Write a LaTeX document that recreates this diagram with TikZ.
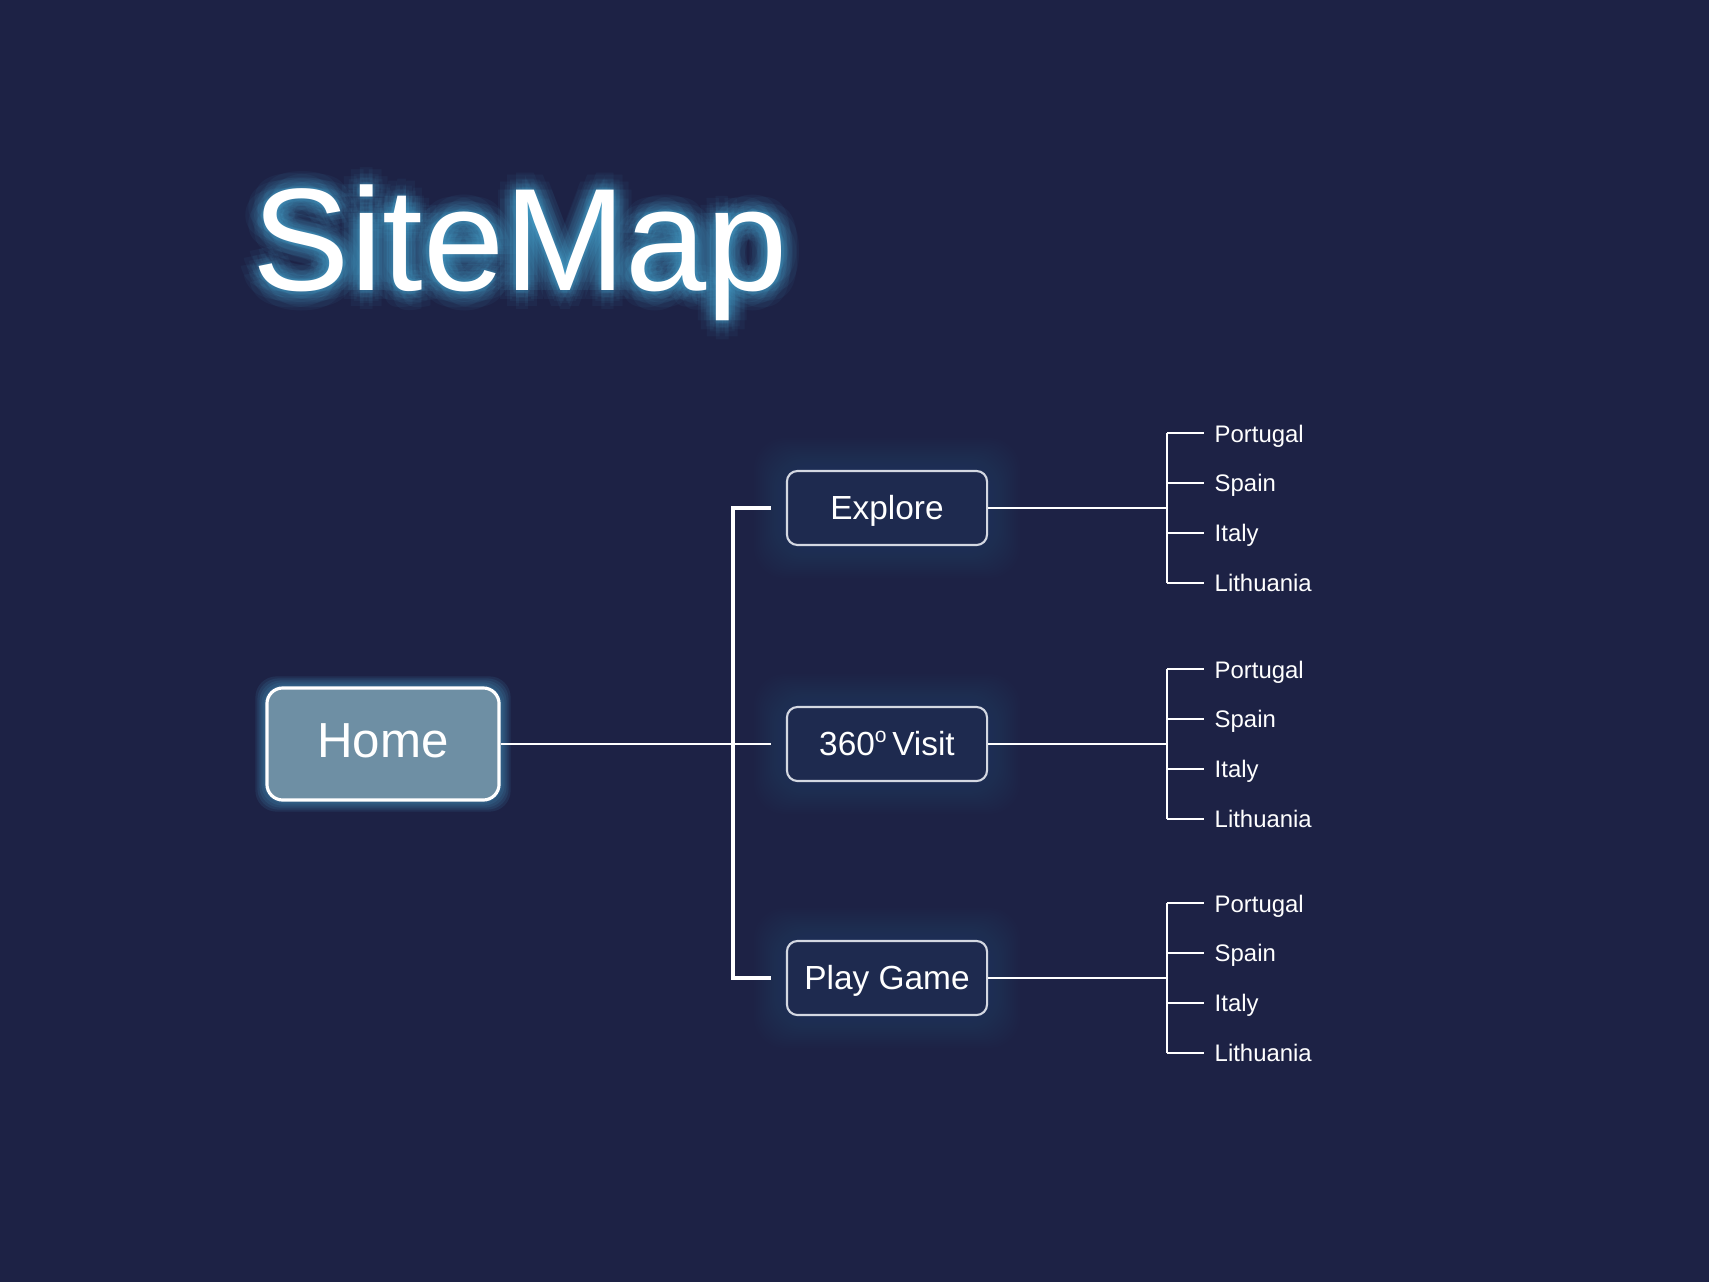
\documentclass[tikz,border=0pt]{standalone}
\usepackage{fontspec}
\setmainfont{Liberation Sans}
\setsansfont{Liberation Sans}
\usetikzlibrary{calc, positioning, backgrounds}

\definecolor{navyBg}{HTML}{1D2245}
\definecolor{boxFill}{HTML}{1E2A4F}
\definecolor{homeFill}{HTML}{6E8FA4}
\definecolor{boxLine}{HTML}{D4D8E2}
\definecolor{glowCyan}{HTML}{4FB3DE}
\definecolor{glowNavy}{HTML}{2C4C84}

\tikzset{
  titletext/.style={anchor=base west, inner sep=0pt, font=\fontsize{41.5}{48}\selectfont},
  pagebox/.style={draw=boxLine, line width=0.6pt, fill=boxFill, rounded corners=3pt,
    minimum width=2cm, minimum height=0.74cm, text=white,
    text height=6.8pt, text depth=0pt, font=\fontsize{9.5}{11}\selectfont},
  homebox/.style={draw=white, line width=0.9pt, fill=homeFill, rounded corners=4.5pt,
    minimum width=2.32cm, minimum height=1.12cm, text=white,
    text height=10pt, text depth=2.6pt, font=\fontsize{14}{16}\selectfont},
  leaf/.style={anchor=west, inner xsep=0.1cm, inner ysep=0pt, text=white,
    text height=4.9pt, text depth=0pt, font=\fontsize{6.8}{8}\selectfont},
  link/.style={draw=white, line width=0.55pt},
  trunk/.style={draw=white, line width=1pt},
}

\begin{document}
\begin{tikzpicture}[x=0.01cm, y=-0.01cm, font=\sffamily]

% --- DEFINITIONS ---
\def\pageX{887}     % centre of the three page boxes
\def\hubX{1167}     % x of the country brackets
\def\leafX{1204}    % end of the country stubs
\def\leafGap{49.7}  % distance between two countries

% --- 0. BACKGROUND ---
\begin{pgfonlayer}{background}
  \fill[navyBg] (0,0) rectangle (1709,1282);
\end{pgfonlayer}
\useasboundingbox (0,0) rectangle (1709,1282);

% --- 1. TITLE (with glow) ---
\coordinate (titlePos) at (252,291);
\foreach \r in {3,7,12,18} {
  \foreach \a in {0,30,...,330} {
    \node[titletext, text=glowCyan, opacity=0.055] at ($(titlePos)+(\a:\r)$) {SiteMap};
  }
}
\node[titletext, text=white] (title) at (titlePos) {SiteMap};

% --- 2. HOME AND PAGES ---
\node[homebox] (home) at (383,744) {Home};
\node[pagebox] (explore) at (\pageX,508) {Explore};
\node[pagebox] (visit) at (\pageX,744)
  {360\raisebox{3.7pt}{\fontsize{6}{7}\selectfont o}\,Visit};
\node[pagebox] (play) at (\pageX,978) {Play Game};

% Glow behind the boxes
\begin{scope}[on background layer]
  \foreach \g in {2,4,...,10}
    \fill[glowCyan, opacity=0.1, rounded corners=6pt]
      ($(home.south west)+(-\g,\g)$) rectangle ($(home.north east)+(\g,-\g)$);
  \foreach \page in {explore, visit, play} {
    \foreach \g in {2,4,...,32}
      \fill[glowNavy, opacity=0.03, rounded corners=9pt]
        ($(\page.south west)+(-\g,\g)$) rectangle ($(\page.north east)+(\g,-\g)$);
  }
\end{scope}

% --- 3. HOME TO PAGES ---
\coordinate (spine) at (733,744);
\coordinate (exploreIn) at ($(explore.west)+(-15,0)$);
\coordinate (visitIn) at ($(visit.west)+(-15,0)$);
\coordinate (playIn) at ($(play.west)+(-15,0)$);
\draw[trunk] (exploreIn) -- (exploreIn -| spine) -- (playIn -| spine) -- (playIn);
\draw[link] (home.east) -- (visitIn);

% --- 4. COUNTRIES ---
\foreach \page/\py in {explore/508, visit/744, play/978} {
  \foreach \c [count=\i] in {Portugal, Spain, Italy, Lithuania} {
    \pgfmathsetmacro{\ly}{\py - 1.5*\leafGap + (\i-1)*\leafGap}
    \node[leaf] (\page-\i) at (\leafX,\ly) {\c};
  }
  \coordinate (\page-hub) at (\hubX,\py);
  \draw[link] (\page.east) -- (\page-hub);
  \draw[link] (\page-1.west -| \page-hub) -- (\page-4.west -| \page-hub);
  \foreach \i in {1,...,4}
    \draw[link] (\page-\i.west -| \page-hub) -- (\page-\i.west);
}

\end{tikzpicture}
\end{document}
